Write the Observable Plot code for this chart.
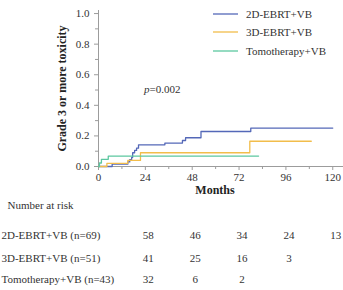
<!DOCTYPE html>
<html>
<head>
<meta charset="utf-8">
<script src="https://cdn.jsdelivr.net/npm/d3@7"></script>
<script src="https://cdn.jsdelivr.net/npm/@observablehq/plot@0.6"></script>
<style>
  body { margin: 0; background: #fff; }
  #chart { position: relative; width: 343px; height: 290px; overflow: hidden; font-family: "Liberation Serif", "Times New Roman", serif; }
  #legend { position: absolute; left: 213px; top: 5px; font-size: 11px; color: #333; }
  #legend .item { display: flex; align-items: center; height: 18.3px; }
  #legend svg { margin-right: 8px; }
</style>
</head>
<body>
<div id="chart"><div id="legend"></div></div>
<script>
// Treatment groups and colours
const groups = ["2D-EBRT+VB", "3D-EBRT+VB", "Tomotherapy+VB"];
const groupSizes = [69, 51, 43];
const colors = ["#5468b8", "#f2bd4b", "#5cc7a0"];

// Cumulative incidence of grade ≥3 toxicity (step curves)
const months2D = [0, 7, 15, 16, 17, 17.5, 18.5, 19.5, 20.5, 34, 43, 44.6, 52.5, 78, 120];
const tox2D    = [0, 0.015, 0.03, 0.045, 0.06, 0.09, 0.105, 0.12, 0.142, 0.153, 0.17, 0.188, 0.229, 0.251, 0.251];
const months3D = [0, 4.3, 15, 21.5, 77.5, 109];
const tox3D    = [0, 0.02, 0.04, 0.09, 0.165, 0.165];
const monthsTomo = [0, 0.5, 1.5, 5, 82];
const toxTomo    = [0, 0.023, 0.047, 0.068, 0.068];

// Number at risk
const riskMonths = [24, 48, 72, 96, 120];
const risk2D = [58, 46, 34, 24, 13];
const risk3D = [41, 25, 16, 3];
const riskTomo = [32, 6, 2];

// Axis ticks
const xTicks = [0, 24, 48, 72, 96, 120];
const xMinor = [12, 36, 60, 84, 108];
const yTicks = [0, 0.2, 0.4, 0.6, 0.8, 1.0];
const yMinor = [0.1, 0.3, 0.5, 0.7, 0.9];

const curves = [[months2D, tox2D], [months3D, tox3D], [monthsTomo, toxTomo]];
const curveData = curves.flatMap(([ms, vs], g) =>
  ms.map((m, i) => ({group: groups[g], month: m, tox: vs[i]})));

const riskRows = [risk2D, risk3D, riskTomo];
const rowOffsets = [72, 95, 116];
const axisGray = "#9c9c9c";
const textColor = "#333";

const riskMarks = riskRows.flatMap((row, r) => [
  Plot.text([`${groups[r]} (n=${groupSizes[r]})`], {
    text: d => d, frameAnchor: "bottom-left", textAnchor: "start",
    dx: -97, dy: rowOffsets[r], fill: textColor, fontSize: 11
  }),
  Plot.text(row.map((n, i) => ({month: riskMonths[i], n})), {
    x: "month", text: "n", frameAnchor: "bottom",
    dx: 3, dy: rowOffsets[r], fill: textColor, fontSize: 11
  })
]);

const chart = Plot.plot({
  width: 343,
  height: 290,
  marginLeft: 98,
  marginRight: 0,
  marginTop: 10,
  marginBottom: 124,
  style: {fontFamily: "'Liberation Serif', 'Times New Roman', serif", fontSize: "11px", background: "transparent"},
  x: {domain: [0, 125.5]},
  y: {domain: [0, 1.02]},
  color: {domain: groups, range: colors},
  marks: [
    Plot.ruleX([0], {stroke: axisGray}),
    Plot.ruleY([0], {stroke: axisGray}),
    Plot.axisY(yMinor, {tickSize: 3, tickFormat: () => "", label: null, stroke: axisGray}),
    Plot.axisY(yTicks, {tickSize: 4, tickPadding: 5, tickFormat: d3.format(".1f"), label: null, stroke: axisGray, fill: textColor, fontSize: 11}),
    Plot.axisX(xMinor, {tickSize: 3, tickFormat: () => "", label: null, stroke: axisGray}),
    Plot.axisX(xTicks, {tickSize: 4, tickPadding: 3, label: null, stroke: axisGray, fill: textColor, fontSize: 11}),
    Plot.line(curveData, {x: "month", y: "tox", z: "group", stroke: "group", curve: "step-after", strokeWidth: 1.3}),
    // axis titles
    Plot.text(["Grade 3 or more toxicity"], {
      text: d => d, frameAnchor: "left", textAnchor: "middle", rotate: -90, dx: -36, dy: 0,
      fontWeight: "bold", fontSize: 12, fill: "#222"
    }),
    Plot.text(["Months"], {
      text: d => d, frameAnchor: "bottom", dx: -6, dy: 27,
      fontWeight: "bold", fontSize: 12, fill: "#222"
    }),
    // log-rank p-value
    Plot.text(["p"], {text: d => d, frameAnchor: "top-left", textAnchor: "start", dx: 45.5, dy: 75, fontStyle: "italic", fill: textColor, fontSize: 11}),
    Plot.text(["=0.002"], {text: d => d, frameAnchor: "top-left", textAnchor: "start", dx: 51, dy: 75, fill: textColor, fontSize: 11}),
    // number at risk table
    Plot.text(["Number at risk"], {
      text: d => d, frameAnchor: "bottom-left", textAnchor: "start",
      dx: -91, dy: 42, fill: textColor, fontSize: 11
    }),
    ...riskMarks
  ]
});

const host = document.getElementById("chart");
host.insertBefore(chart, host.firstChild);

// legend
const legend = document.getElementById("legend");
groups.forEach((g, i) => {
  const item = document.createElement("div");
  item.className = "item";
  item.innerHTML = `<svg width="25" height="4"><line x1="0" x2="25" y1="2" y2="2" stroke="${colors[i]}" stroke-width="1.3"/></svg><span>${g}</span>`;
  legend.appendChild(item);
});
</script>
</body>
</html>
